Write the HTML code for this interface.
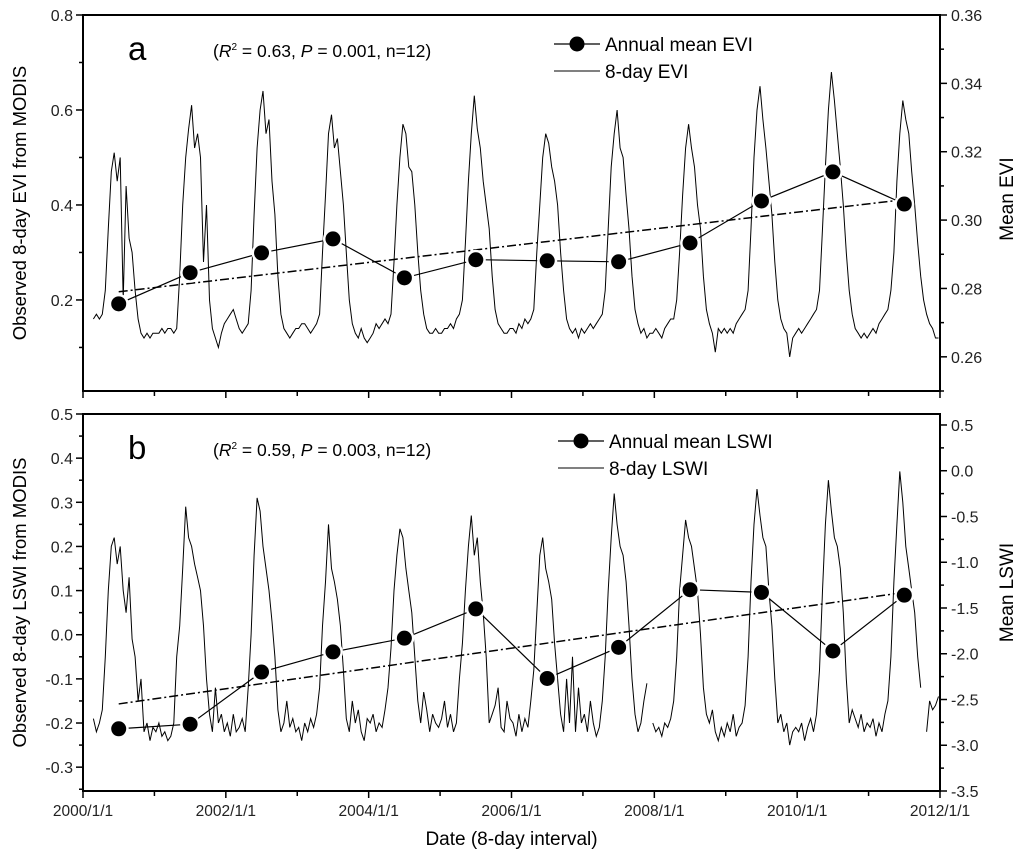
<!DOCTYPE html>
<html><head><meta charset="utf-8"><style>
body{margin:0;background:#fff;}
svg{display:block;font-family:"Liberation Sans",Arial,sans-serif;}
</style></head><body>
<svg id="chart" width="1024" height="859" xmlns="http://www.w3.org/2000/svg"></svg>
<script>
// ---- data ----
const years = [2000,2001,2002,2003,2004,2005,2006,2007,2008,2009,2010,2011];
const eviMeans = [0.2755,0.2846,0.2904,0.2945,0.2831,0.2884,0.2881,0.2878,0.2933,0.3056,0.3141,0.3047];
const lswiMeans = [-2.82,-2.77,-2.20,-1.98,-1.83,-1.51,-2.27,-1.93,-1.30,-1.33,-1.97,-1.36];
const evi8day = [
[null,null,null,0.16,0.17,0.16,0.17,0.22,0.35,0.47,0.51,0.45,0.50,0.20,0.44,0.33,0.30,0.22,0.16,0.13,0.12,0.13,0.12,0.13],
[0.13,0.13,0.14,0.13,0.14,0.14,0.13,0.14,0.25,0.40,0.50,0.56,0.61,0.52,0.55,0.50,0.28,0.40,0.20,0.14,0.12,0.10,0.13,0.15],
[0.16,0.17,0.18,0.16,0.14,0.13,0.14,0.15,0.22,0.38,0.52,0.60,0.64,0.55,0.58,0.45,0.38,0.25,0.17,0.14,0.13,0.12,0.13,0.14],
[0.14,0.15,0.15,0.14,0.13,0.14,0.15,0.17,0.30,0.42,0.55,0.59,0.52,0.54,0.47,0.40,0.30,0.20,0.15,0.13,0.12,0.14,0.12,0.11],
[0.12,0.13,0.15,0.14,0.15,0.16,0.15,0.17,0.28,0.40,0.50,0.57,0.55,0.48,0.47,0.40,0.30,0.22,0.17,0.14,0.13,0.13,0.14,0.13],
[0.13,0.14,0.14,0.15,0.14,0.16,0.17,0.20,0.32,0.45,0.55,0.63,0.56,0.52,0.45,0.40,0.35,0.25,0.18,0.15,0.14,0.13,0.13,0.14],
[0.14,0.13,0.15,0.14,0.16,0.15,0.16,0.18,0.30,0.40,0.50,0.55,0.53,0.48,0.45,0.40,0.30,0.22,0.16,0.14,0.13,0.14,0.12,0.14],
[0.13,0.14,0.15,0.14,0.15,0.16,0.17,0.22,0.35,0.48,0.55,0.60,0.52,0.50,0.42,0.35,0.25,0.18,0.15,0.13,0.14,0.12,0.13,0.13],
[0.14,0.13,0.12,0.14,0.15,0.16,0.16,0.20,0.30,0.42,0.52,0.57,0.52,0.48,0.40,0.35,0.25,0.18,0.15,0.13,0.09,0.14,0.13,0.14],
[0.13,0.14,0.13,0.15,0.16,0.17,0.18,0.22,0.35,0.50,0.60,0.65,0.58,0.52,0.45,0.38,0.28,0.20,0.16,0.14,0.13,0.08,0.12,0.13],
[0.14,0.13,0.14,0.15,0.16,0.17,0.18,0.22,0.35,0.48,0.60,0.68,0.62,0.55,0.48,0.40,0.30,0.22,0.17,0.14,0.13,0.12,0.13,0.12],
[0.13,0.14,0.13,0.15,0.16,0.17,0.18,0.22,0.30,0.45,0.55,0.62,0.58,0.55,0.47,0.40,0.32,0.25,0.20,0.17,0.15,0.14,0.12,0.12]
];
const lswi8day = [
[null,null,null,-0.19,-0.22,-0.20,-0.17,-0.05,0.10,0.20,0.22,0.16,0.20,0.10,0.05,0.13,-0.01,-0.05,-0.15,-0.10,-0.22,-0.20,-0.24,-0.21],
[-0.22,-0.20,-0.23,-0.22,-0.24,-0.23,-0.20,-0.05,0.02,0.15,0.29,0.22,0.20,0.16,0.13,0.10,0.02,-0.10,-0.18,-0.22,-0.12,-0.20,-0.18,-0.22],
[-0.20,-0.23,-0.18,-0.22,-0.21,-0.19,-0.22,-0.12,0.00,0.18,0.31,0.28,0.20,0.15,0.10,0.03,-0.05,-0.17,-0.22,-0.20,-0.15,-0.21,-0.19,-0.22],
[-0.21,-0.24,-0.20,-0.22,-0.19,-0.21,-0.18,-0.12,0.02,0.12,0.25,0.15,0.12,0.08,0.02,-0.08,-0.19,-0.22,-0.15,-0.20,-0.17,-0.22,-0.24,-0.19],
[-0.20,-0.18,-0.22,-0.20,-0.21,-0.17,-0.12,-0.03,0.10,0.18,0.24,0.22,0.15,0.10,0.05,-0.05,-0.15,-0.20,-0.13,-0.17,-0.22,-0.18,-0.20,-0.21],
[-0.19,-0.15,-0.21,-0.18,-0.22,-0.20,-0.10,-0.02,0.10,0.20,0.27,0.18,0.22,0.12,0.05,-0.05,-0.20,-0.18,-0.16,-0.12,-0.21,-0.22,-0.15,-0.19],
[-0.20,-0.23,-0.18,-0.22,-0.19,-0.21,-0.15,-0.08,0.05,0.18,0.22,0.15,0.12,0.08,-0.02,-0.10,-0.18,-0.22,-0.10,-0.20,-0.05,-0.22,-0.12,-0.20],
[-0.18,-0.22,-0.15,-0.20,-0.23,-0.21,-0.15,-0.05,0.10,0.22,0.32,0.25,0.20,0.18,0.12,0.02,-0.10,-0.18,-0.22,-0.20,-0.15,-0.11,null,-0.20],
[-0.22,-0.21,-0.23,-0.20,-0.21,-0.19,-0.15,-0.05,0.10,0.18,0.26,0.22,0.20,0.15,0.10,0.00,-0.12,-0.18,-0.20,-0.17,-0.22,-0.24,-0.21,-0.23],
[-0.20,-0.22,-0.18,-0.23,-0.21,-0.20,-0.16,-0.05,0.12,0.25,0.33,0.27,0.22,0.20,0.10,0.02,-0.10,-0.20,-0.18,-0.22,-0.20,-0.25,-0.22,-0.21],
[-0.22,-0.20,-0.24,-0.21,-0.19,-0.22,-0.18,-0.08,0.10,0.25,0.35,0.28,0.22,0.20,0.15,0.05,-0.10,-0.20,-0.17,-0.19,-0.21,-0.18,-0.22,-0.20],
[-0.21,-0.19,-0.23,-0.20,-0.22,-0.18,-0.15,-0.05,0.12,0.25,0.37,0.30,0.20,0.15,0.10,0.05,-0.05,-0.12,null,-0.22,-0.15,-0.17,-0.16,-0.14]
];
const xTickLabels = ["2000/1/1","2002/1/1","2004/1/1","2006/1/1","2008/1/1","2010/1/1","2012/1/1"];
const eviLeftTicks = ["0.2","0.4","0.6","0.8"];
const eviRightTicks = ["0.26","0.28","0.30","0.32","0.34","0.36"];
const lswiLeftTicks = ["-0.3","-0.2","-0.1","0.0","0.1","0.2","0.3","0.4","0.5"];
const lswiRightTicks = ["-3.5","-3.0","-2.5","-2.0","-1.5","-1.0","-0.5","0.0","0.5"];

// ---- layout ----
const svg = document.getElementById('chart');
const NS = 'http://www.w3.org/2000/svg';
const X0 = 83, X1 = 940;
const xs = t => X0 + (t - 2000) / 12 * (X1 - X0);
const A = {top:15, bot:391, lmin:0.0083, lmax:0.8, rmin:0.25, rmax:0.36};
const B = {top:414, bot:791, lmin:-0.354, lmax:0.5, rmin:-3.5, rmax:0.62};
const yl = (P,v) => P.bot - (v - P.lmin)/(P.lmax - P.lmin)*(P.bot - P.top);
const yr = (P,v) => P.bot - (v - P.rmin)/(P.rmax - P.rmin)*(P.bot - P.top);

function mk(tag, attrs, parent){
  const e = document.createElementNS(NS, tag);
  for (const k in attrs) e.setAttribute(k, attrs[k]);
  (parent||svg).appendChild(e);
  return e;
}
function txt(s, attrs, parent){ const e = mk('text', attrs, parent); e.textContent = s; return e; }

function panel(P, id, leftTicks, rightTicks, lStepMinor, rStepMinor, series, means, labels){
  const g = mk('g', {});
  
  
  let d = '', pen = false;
  series.forEach((row, yi) => row.forEach((v, k) => {
    if (v === null) { pen = false; return; }
    const t = years[yi] + (k + 0.5) / 24;
    d += (pen ? 'L' : 'M') + xs(t).toFixed(1) + ',' + yl(P, v).toFixed(1);
    pen = true;
  }));
  const line = mk('path', {d, fill:'none', stroke:'#000', 'stroke-width':1}, g);
  
  
  const n = means.length, mx = years.reduce((a,b)=>a+b,0)/n, my = means.reduce((a,b)=>a+b,0)/n;
  let sxy = 0, sxx = 0;
  years.forEach((x,i)=>{ sxy += (x-mx)*(means[i]-my); sxx += (x-mx)*(x-mx); });
  const slope = sxy/sxx, icp = my - slope*mx;
  const xa = years[0], xb = years[n-1];
  const tr = mk('line', {x1:xs(xa+0.5), y1:yr(P, icp+slope*xa), x2:xs(xb+0.5), y2:yr(P, icp+slope*xb),
    stroke:'#000', 'stroke-width':1.5, 'stroke-dasharray':'9,3,2,3'}, g);
  
  
  const md = means.map((v,i)=>(i?'L':'M')+xs(years[i]+0.5).toFixed(1)+','+yr(P,v).toFixed(1)).join('');
  const ml = mk('path', {d:md, fill:'none', stroke:'#000', 'stroke-width':1.2}, g);
  
  
  means.forEach((v,i)=>{
    mk('circle', {cx:xs(years[i]+0.5), cy:yr(P,v), r:10, fill:'#fff'}, g);
    const c = mk('circle', {cx:xs(years[i]+0.5), cy:yr(P,v), r:7.5, fill:'#000'}, g);
    
    
  });
  const fr = mk('rect', {x:X0, y:P.top, width:X1-X0, height:P.bot-P.top, fill:'none', stroke:'#000', 'stroke-width':2}, g);
  
  
  for (let yv = 2000; yv <= 2012; yv++) {
    const x = xs(yv), len = (yv % 2 === 0) ? 7 : 5;
    mk('line', {x1:x, y1:P.bot, x2:x, y2:P.bot+len, stroke:'#000', 'stroke-width':1.5}, g);
  }
  const lv = leftTicks.map(Number);
  for (let v = Math.ceil(P.lmin/lStepMinor - 1e-6)*lStepMinor; v <= P.lmax + 1e-9; v += lStepMinor) {
    const major = lv.some(m => Math.abs(m - v) < 1e-6);
    mk('line', {x1:X0-(major?7:4), y1:yl(P,v), x2:X0, y2:yl(P,v), stroke:'#000', 'stroke-width':1.5}, g);
  }
  leftTicks.forEach(s => {
    const t = txt(s, {x:X0-10, y:yl(P,Number(s))+6, 'font-size':16, 'text-anchor':'end', fill:'#222'}, g);
    
    
  });
  const rv = rightTicks.map(Number);
  for (let v = Math.ceil(P.rmin/rStepMinor - 1e-6)*rStepMinor; v <= P.rmax + 1e-9; v += rStepMinor) {
    const major = rv.some(m => Math.abs(m - v) < 1e-6);
    mk('line', {x1:X1, y1:yr(P,v), x2:X1+(major?7:4), y2:yr(P,v), stroke:'#000', 'stroke-width':1.5}, g);
  }
  rightTicks.forEach(s => {
    const t = txt(s, {x:X1+11, y:yr(P,Number(s))+6, 'font-size':16, 'text-anchor':'start', fill:'#222'}, g);
    
    
  });
  const lt = txt(labels.letter, {x:128, y:P.top+45, 'font-size':33, fill:'#000'}, g);
  
  
  const st = mk('text', {x:213, y:P.top+42, 'font-size':17.5, fill:'#000'}, g);
  st.innerHTML = '(<tspan font-style="italic">R</tspan><tspan font-size="10" dy="-7">2</tspan><tspan dy="7"> = ' + labels.r2 + ', </tspan><tspan font-style="italic">P</tspan> = ' + labels.p + ', n=12)';
  
  
  const lg = mk('g', {}, g);
  
  
  const ly = P.top + labels.ly;
  mk('line', {x1:labels.lx, y1:ly, x2:labels.lx+46, y2:ly, stroke:'#000', 'stroke-width':1.2}, lg);
  mk('circle', {cx:labels.lx+23, cy:ly, r:7.5, fill:'#000'}, lg);
  const e1 = txt(labels.l1, {x:labels.lx+51, y:ly+7, 'font-size':19, fill:'#000'}, lg);
  
  
  mk('line', {x1:labels.lx, y1:ly+27, x2:labels.lx+46, y2:ly+27, stroke:'#000', 'stroke-width':1}, lg);
  const e2 = txt(labels.l2, {x:labels.lx+51, y:ly+34, 'font-size':19, fill:'#000'}, lg);
  
  
  const cy = (P.top + P.bot)/2;
  const lti = txt(labels.ytl, {x:0, y:0, 'font-size':18.5, 'text-anchor':'middle', fill:'#000',
    transform:'translate(26,'+cy+') rotate(-90)'}, g);
  
  
  const rti = txt(labels.ytr, {x:0, y:0, 'font-size':19, 'text-anchor':'middle', fill:'#000',
    transform:'translate(1013,'+(cy+labels.rOff)+') rotate(-90)'}, g);
  
  
}

panel(A, 'evi', eviLeftTicks, eviRightTicks, 0.1, 0.01, evi8day, eviMeans,
  {letter:'a', r2:'0.63', p:'0.001', lx:554, ly:29, l1:'Annual mean EVI', l2:'8-day EVI',
   ytl:'Observed 8-day EVI from MODIS', ytr:'Mean EVI', rOff:-4});
panel(B, 'lswi', lswiLeftTicks, lswiRightTicks, 0.05, 0.25, lswi8day, lswiMeans,
  {letter:'b', r2:'0.59', p:'0.003', lx:558, ly:27, l1:'Annual mean LSWI', l2:'8-day LSWI',
   ytl:'Observed 8-day LSWI from MODIS', ytr:'Mean LSWI', rOff:-10});

xTickLabels.forEach((s,i)=>{
  const t = txt(s, {x:xs(2000+2*i), y:B.bot+25, 'font-size':15.5, 'text-anchor':'middle', fill:'#222'});
  
  
});
const xt = txt('Date (8-day interval)', {x:(X0+X1)/2, y:845, 'font-size':19, 'text-anchor':'middle', fill:'#000'});


</script>
</body></html>
